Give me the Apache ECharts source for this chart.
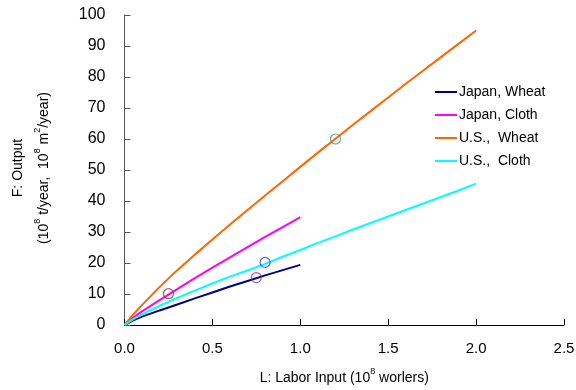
<!DOCTYPE html>
<html><head><meta charset="utf-8">
<script src="https://cdn.jsdelivr.net/npm/echarts@6/dist/echarts.min.js"></script>
<style>html,body{margin:0;padding:0;background:#fff}#c{width:576px;height:390px}</style>
</head><body><div id="c"></div>
<script>
var seriesNames = ['Japan, Wheat', 'Japan, Cloth', 'U.S.,  Wheat', 'U.S.,  Cloth'];
var xTicks = [0, 0.5, 1.0, 1.5, 2.0, 2.5];
var yTicks = [0, 10, 20, 30, 40, 50, 60, 70, 80, 90, 100];
var japanL = [0, 0.05, 0.1, 0.2, 0.3, 0.4, 0.5, 0.6, 0.7, 0.8, 0.9, 1.0];
var usL = [0, 0.05, 0.1, 0.2, 0.3, 0.4, 0.5, 0.6, 0.7, 0.8, 0.9, 1.0, 1.1, 1.2, 1.3, 1.4, 1.5, 1.6, 1.7, 1.8, 1.9, 2.0];
var japanWheat = [0, 1.5, 2.7, 4.7, 6.6, 8.6, 10.5, 12.4, 14.2, 16.0, 17.7, 19.4];
var japanCloth = [0, 2.4, 4.4, 8.0, 11.6, 15.1, 18.5, 21.8, 25.1, 28.4, 31.6, 34.8];
var usWheat = [0, 3.4, 6.5, 12.3, 17.7, 22.7, 27.6, 32.4, 37.1, 41.8, 46.4, 51.0, 55.6, 60.1, 64.6, 69.0, 73.4, 77.8, 82.1, 86.4, 90.7, 95.0];
var usCloth = [0, 1.9, 3.4, 6.2, 8.7, 11.1, 13.4, 15.6, 17.6, 19.7, 22.0, 24.2, 26.5, 28.6, 30.8, 32.9, 35.0, 37.1, 39.2, 41.3, 43.4, 45.6];
var pointL = [0.75, 0.25, 1.2, 0.8];
var pointF = [15.3, 10.1, 60.0, 20.2];
var lineColors = ['#000080', '#FF00FF', '#FF6600', '#00FFFF'];
var pointColors = ['#993399', '#993333', '#339999', '#3333FF'];

function pairs(xs, ys) { return xs.map(function (x, i) { return [x, ys[i]]; }); }
var lineData = [pairs(japanL, japanWheat), pairs(japanL, japanCloth), pairs(usL, usWheat), pairs(usL, usCloth)];

var font = '"Liberation Sans", Arial, sans-serif';
var series = [];
seriesNames.forEach(function (n, i) {
  series.push({
    name: n, type: 'line', data: lineData[i], symbol: 'none', smooth: false,
    lineStyle: { color: lineColors[i], width: 2 }, itemStyle: { color: lineColors[i] },
    z: 2
  });
});
seriesNames.forEach(function (n, i) {
  series.push({
    type: 'scatter', data: [[pointL[i], pointF[i]]], symbol: 'circle', symbolSize: 10,
    itemStyle: { color: 'rgba(0,0,0,0)', borderColor: pointColors[i], borderWidth: 1.2 },
    z: 5, silent: true
  });
});

var chart = echarts.init(document.getElementById('c'), null, { renderer: 'canvas' });
chart.setOption({
  animation: false,
  backgroundColor: '#fff',
  textStyle: { fontFamily: font },
  grid: { left: 124.5, right: 12, top: 15, bottom: 65, containLabel: false, outerBoundsMode: 'none' },
  legend: {
    data: seriesNames, orient: 'vertical', left: 430, top: 80, padding: 5,
    itemWidth: 22, itemHeight: 8, itemGap: 9,
    textStyle: { fontFamily: font, fontSize: 14, color: '#000', padding: [0, 0, 0, -3] },
    icon: 'path://M0,3.5L22,3.5L22,5.5L0,5.5Z'
  },
  xAxis: {
    type: 'value', min: xTicks[0], max: xTicks[xTicks.length - 1], interval: 0.5,
    axisLine: { lineStyle: { color: '#000', width: 1 } },
    axisTick: { inside: true, length: 6, lineStyle: { color: '#000' } },
    splitLine: { show: false },
    axisLabel: { fontSize: 15, color: '#000', margin: 16, fontFamily: font,
      formatter: function (v) { return v.toFixed(1); } },
    name: '{t|L: Labor Input (10}{s|8}{t| worlers)}',
    nameLocation: 'middle', nameGap: 42,
    nameTextStyle: {
      rich: {
        t: { fontSize: 14, color: '#000', fontFamily: font, lineHeight: 18, verticalAlign: 'bottom' },
        s: { fontSize: 9, color: '#000', fontFamily: font, lineHeight: 18, verticalAlign: 'top', padding: [0, 0, 6, 0] }
      }
    }
  },
  yAxis: {
    type: 'value', min: yTicks[0], max: yTicks[yTicks.length - 1], interval: 10,
    axisLine: { show: true, lineStyle: { color: '#555', width: 1 } },
    axisTick: { show: true, inside: true, length: 6, lineStyle: { color: '#555' } },
    splitLine: { show: false },
    axisLabel: { fontSize: 16, color: '#000', margin: 19, fontFamily: font }
  },
  graphic: [
    {
      type: 'text', x: 18, y: 168, rotation: Math.PI / 2,
      style: { text: 'F: Output', fontSize: 14, fontFamily: font, fill: '#000', align: 'center', verticalAlign: 'middle' }
    },
    {
      type: 'text', x: 42, y: 168, rotation: Math.PI / 2,
      style: {
        text: '{t|(10}{s|8}{t| t/year,  10}{s|8}{t| m}{s|2}{t|/year)}',
        align: 'center', verticalAlign: 'middle',
        rich: {
          t: { fontSize: 14, fontFamily: font, fill: '#000', lineHeight: 18, verticalAlign: 'bottom' },
          s: { fontSize: 9, fontFamily: font, fill: '#000', lineHeight: 18, verticalAlign: 'top', padding: [0, 0, 6, 0] }
        }
      }
    }
  ],
  series: series
});
</script></body></html>
